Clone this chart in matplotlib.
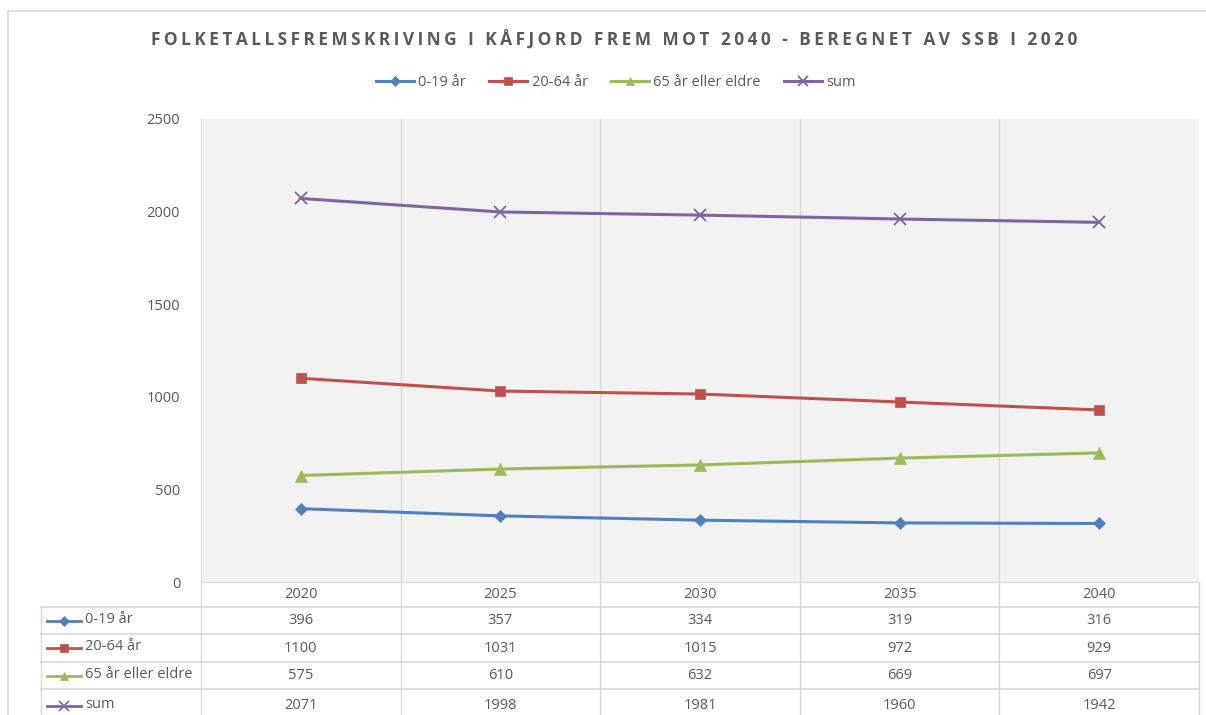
import matplotlib.pyplot as plt
from matplotlib.patches import Rectangle
from matplotlib.lines import Line2D

# data
years = ["2020", "2025", "2030", "2035", "2040"]
series_names = ["0-19 år", "20-64 år", "65 år eller eldre", "sum"]
age_0_19 = [396, 357, 334, 319, 316]
age_20_64 = [1100, 1031, 1015, 972, 929]
age_65 = [575, 610, 632, 669, 697]
total = [2071, 1998, 1981, 1960, 1942]
yticks = [0, 500, 1000, 1500, 2000, 2500]

title = "FOLKETALLSFREMSKRIVING I KÅFJORD FREM MOT 2040 - BEREGNET AV SSB I 2020"

colors = ["#4F81BD", "#C0504D", "#9BBB59", "#8064A2"]
markers = ["D", "s", "^", "x"]
msizes = [6.5, 7.5, 8, 9]
all_series = [age_0_19, age_20_64, age_65, total]

txt_col = "#595959"
grid_col = "#D9D9D9"
W, H = 1206, 715
fs = 10.5

plt.rcParams['font.family'] = ['Open Sans', 'DejaVu Sans']

fig = plt.figure(figsize=(W / 100, H / 100), dpi=100)

# chart border
fig.patches.append(Rectangle((8 / W, -0.1), 1.2, (H - 11) / H + 0.1, transform=fig.transFigure,
                             fill=False, edgecolor=grid_col, lw=1.2))

def fx(px):
    return px / W

def fy(py):
    return 1 - py / H

left, right, top, bottom = 201, 1199, 119, 582
ax = fig.add_axes([fx(left), fy(bottom), fx(right) - fx(left), fy(top) - fy(bottom)])
ax.set_facecolor("#F2F2F2")
x = list(range(len(years)))
for vals, name, c, m, ms in zip(all_series, series_names, colors, markers, msizes):
    ax.plot(x, vals, color=c, lw=2.2, marker=m, ms=ms, mew=1.3 if m == "x" else 0.5,
            label=name, zorder=3)
ax.set_xlim(-0.5, len(years) - 0.5)
ax.set_ylim(0, 2500)
ax.set_yticks(yticks)
ax.set_yticklabels([str(v) for v in yticks], color=txt_col, fontsize=fs)
ax.tick_params(axis="y", length=0, pad=15)
ax.set_xticks([i + 0.5 for i in range(len(years) - 1)])
ax.tick_params(axis="x", length=0, labelbottom=False)
ax.grid(axis="x", color=grid_col, lw=1)
for s in ["top", "right"]:
    ax.spines[s].set_visible(False)
ax.spines["left"].set_color(grid_col)
ax.spines["bottom"].set_color(grid_col)

# data table below the plot
tab = fig.add_axes([fx(left), 0, fx(right) - fx(left), fy(bottom)], sharex=ax)
tab.set_ylim(H - bottom, 0)
tab.axis("off")
row_edges = [0, 25, 52, 80, 107, 140]
k = (right - left) / len(years)
tab_left = -0.5 - (left - 41) / k
for i in range(len(years) + 1):
    tab.plot([i - 0.5, i - 0.5], [0, 140], color=grid_col, lw=1, clip_on=False)
tab.plot([tab_left, tab_left], [row_edges[1], 140], color=grid_col, lw=1, clip_on=False)
for r in row_edges[1:5]:
    tab.plot([tab_left, len(years) - 0.5], [r, r], color=grid_col, lw=1.2, clip_on=False)
for i, yr in enumerate(years):
    tab.text(i, 12.5, yr, ha="center", va="center", color=txt_col, fontsize=fs)
for r, (vals, name, c, m, ms) in enumerate(zip(all_series, series_names, colors, markers, msizes)):
    yc = (row_edges[r + 1] + row_edges[r + 2]) / 2
    for i, v in enumerate(vals):
        tab.text(i, yc, str(v), ha="center", va="center", color=txt_col, fontsize=fs)
    x0 = tab_left + 6 / k
    x1 = tab_left + 40 / k
    tab.add_line(Line2D([x0, x1], [yc, yc], color=c, lw=2, clip_on=False))
    tab.add_line(Line2D([(x0 + x1) / 2], [yc], color=c, marker=m, ms=ms * 0.75,
                        mew=1.2 if m == "x" else 0.5, clip_on=False))
    tab.text(tab_left + 44 / k, yc - 1, name, ha="left", va="center", color=txt_col,
             fontsize=fs)

# letter-spaced title
spaced = "\u2009".join(title)
fig.text(fx(614), fy(40), spaced, ha="center", va="center", color=txt_col,
         fontsize=12.4, fontweight="bold")
fig.legend(loc="center", bbox_to_anchor=(fx(616), fy(83)), ncol=4, frameon=False,
           fontsize=fs, labelcolor=txt_col, handlelength=2.6, columnspacing=1.6,
           handletextpad=0.3, markerscale=0.8)

fig.savefig("out.png", dpi=100)
